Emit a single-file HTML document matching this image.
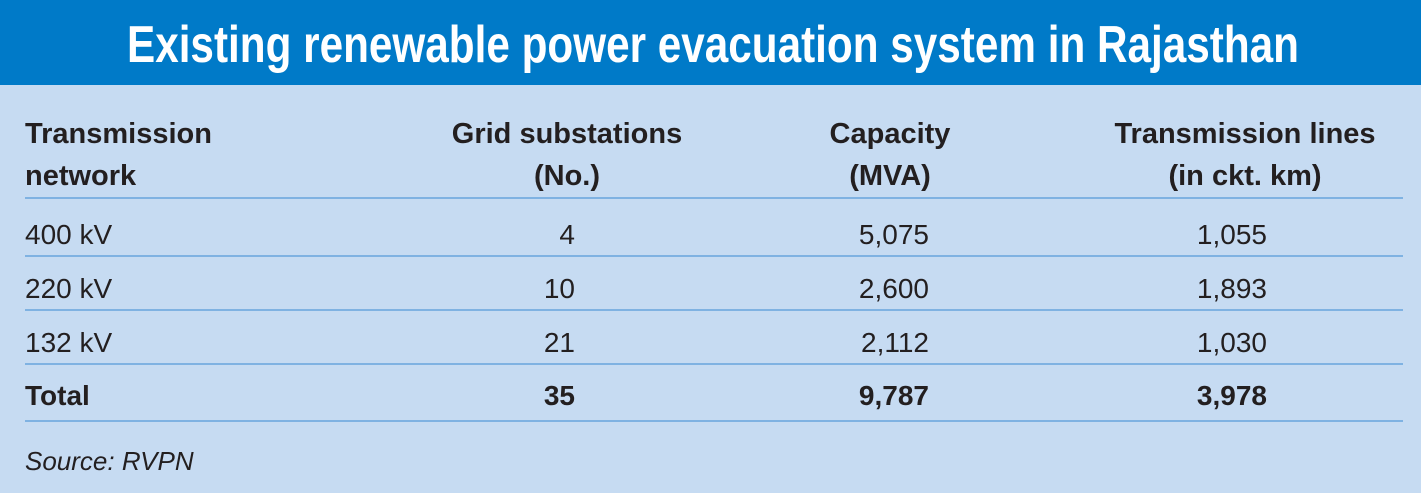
<!DOCTYPE html>
<html><head><style>
html,body{margin:0;padding:0;background:#c6dbf2;}
svg{display:block}
text{font-family:"Liberation Sans",sans-serif;fill:#231f20;}
</style></head><body>
<svg width="1421" height="493" viewBox="0 0 1421 493">
<rect x="0" y="0" width="1421" height="493" fill="#c6dbf2"/>
<rect x="0" y="0" width="1421" height="85" fill="#007ac8"/>
<text x="713" y="62" text-anchor="middle" font-size="52" font-weight="bold" style="fill:#fff" textLength="1172" lengthAdjust="spacingAndGlyphs">Existing renewable power evacuation system in Rajasthan</text>
<g font-size="29" font-weight="bold">
<text x="25" y="143">Transmission</text>
<text x="25" y="185">network</text>
<text x="567" y="143" text-anchor="middle">Grid substations</text>
<text x="567" y="185" text-anchor="middle">(No.)</text>
<text x="890" y="143" text-anchor="middle">Capacity</text>
<text x="890" y="185" text-anchor="middle">(MVA)</text>
<text x="1245" y="143" text-anchor="middle">Transmission lines</text>
<text x="1245" y="185" text-anchor="middle">(in ckt. km)</text>
</g>
<g stroke="#7fb2e2" stroke-width="2">
<line x1="25" y1="198" x2="1403" y2="198"/>
<line x1="25" y1="256" x2="1403" y2="256"/>
<line x1="25" y1="310" x2="1403" y2="310"/>
<line x1="25" y1="364" x2="1403" y2="364"/>
<line x1="25" y1="421" x2="1403" y2="421"/>
</g>
<g font-size="28">
<text x="25" y="244">400 kV</text>
<text x="575" y="244" text-anchor="end">4</text>
<text x="929" y="244" text-anchor="end">5,075</text>
<text x="1267" y="244" text-anchor="end">1,055</text>
<text x="25" y="298">220 kV</text>
<text x="575" y="298" text-anchor="end">10</text>
<text x="929" y="298" text-anchor="end">2,600</text>
<text x="1267" y="298" text-anchor="end">1,893</text>
<text x="25" y="352">132 kV</text>
<text x="575" y="352" text-anchor="end">21</text>
<text x="929" y="352" text-anchor="end">2,112</text>
<text x="1267" y="352" text-anchor="end">1,030</text>
</g>
<g font-size="28" font-weight="bold">
<text x="25" y="405">Total</text>
<text x="575" y="405" text-anchor="end">35</text>
<text x="929" y="405" text-anchor="end">9,787</text>
<text x="1267" y="405" text-anchor="end">3,978</text>
</g>
<text x="25" y="470" font-size="26" font-style="italic">Source: RVPN</text>
</svg>
</body></html>
